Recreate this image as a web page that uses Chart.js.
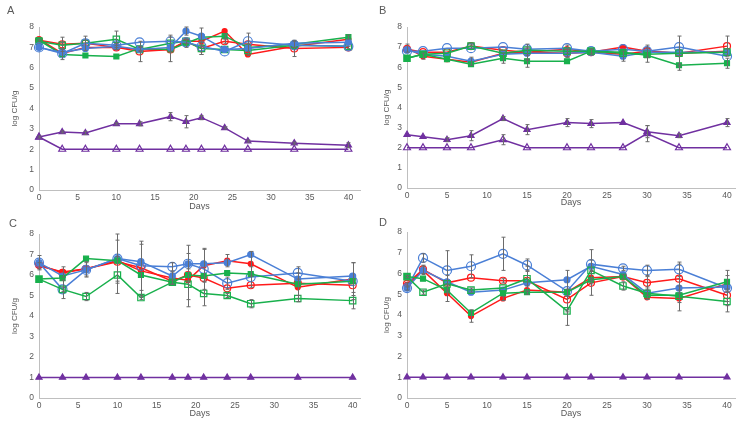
<!DOCTYPE html>
<html><head><meta charset="utf-8">
<script src="https://cdn.jsdelivr.net/npm/chart.js@4/dist/chart.umd.min.js"></script>
<style>
html,body{margin:0;padding:0;background:#fff;width:744px;height:421px;overflow:hidden;font-family:"Liberation Sans",Arial,sans-serif;}
.pane{position:absolute;width:372px;height:210px;}
.lbl{position:absolute;font-size:11px;color:#595959;}
</style></head>
<body>
<div class="pane" style="left:0;top:0"><canvas id="cA" width="372" height="210"></canvas></div>
<div class="pane" style="left:372px;top:0"><canvas id="cB" width="372" height="210"></canvas></div>
<div class="pane" style="left:0;top:210px"><canvas id="cC" width="372" height="210"></canvas></div>
<div class="pane" style="left:372px;top:210px"><canvas id="cD" width="372" height="210"></canvas></div>
<div class="lbl" style="left:7px;top:4px">A</div>
<div class="lbl" style="left:379px;top:4px">B</div>
<div class="lbl" style="left:9px;top:217px">C</div>
<div class="lbl" style="left:379px;top:216px">D</div>
<script>
// ---- categories / ticks ----
const daysAC = [0,3,6,10,13,17,19,21,24,27,33,40];
const daysBD = [0,2,5,8,12,15,20,23,27,30,34,40];
const xTickLabels = [0,5,10,15,20,25,30,35,40];
const yTickLabels = [0,1,2,3,4,5,6,7,8];

// ---- Panel A ----
const A_redFilled    = [7.4,6.7,7.0,7.0,6.9,6.9,7.3,7.3,7.8,6.65,7.05,7.4];
const A_redOpen      = [7.35,7.15,7.2,7.0,6.8,6.9,7.3,6.95,7.3,7.15,6.95,7.0];
const A_blueFilled   = [7.0,6.75,6.95,7.05,6.9,7.0,7.8,7.55,6.9,6.95,7.2,7.25];
const A_blueOpen     = [7.0,6.7,7.2,7.1,7.25,7.3,7.25,7.05,6.8,7.3,7.1,7.05];
const A_greenFilled  = [7.35,6.65,6.6,6.55,6.95,6.9,7.2,7.5,7.55,7.0,7.15,7.5];
const A_greenOpen    = [7.3,7.1,7.2,7.4,6.9,7.2,7.3,6.95,6.9,6.85,7.1,7.05];
const A_purpleFilled = [2.6,2.85,2.8,3.25,3.25,3.6,3.35,3.55,3.05,2.4,2.3,2.2];
const A_purpleOpen   = [2.6,2.0,2.0,2.0,2.0,2.0,2.0,2.0,2.0,2.0,2.0,2.0];
const A_redOpenErr      = [0.05,0.35,0.35,0.1,0.5,0,0.1,0.3,0.1,0.55,0.4,0.05];
const A_greenOpenErr    = [0,0.15,0,0.4,0.1,0.4,0.1,0.3,0,0,0,0];
const A_greenFilledErr  = [0,0.25,0,0,0.1,0.6,0.2,0.45,0.1,0.2,0.15,0.1];
const A_blueFilledErr   = [0,0,0,0.15,0,0,0.2,0,0,0,0,0];
const A_purpleFilledErr = [0.05,0.05,0.08,0.05,0.1,0.2,0.3,0.1,0.05,0.05,0.05,0.12];

// ---- Panel B ----
const B_redFilled    = [6.95,6.55,6.4,6.25,6.7,6.75,6.9,6.75,7.0,6.8,6.7,6.8];
const B_redOpen      = [6.9,6.75,6.75,7.05,6.85,6.75,6.7,6.75,6.65,6.8,6.7,7.05];
const B_blueFilled   = [6.85,6.65,6.55,6.3,6.65,6.7,6.7,6.75,6.55,6.75,6.75,6.75];
const B_blueOpen     = [6.8,6.8,6.95,6.95,7.0,6.9,6.95,6.8,6.9,6.8,7.0,6.55];
const B_greenFilled  = [6.45,6.65,6.4,6.15,6.45,6.3,6.3,6.8,6.75,6.6,6.1,6.2];
const B_greenOpen    = [6.45,6.65,6.7,7.05,6.7,6.85,6.8,6.8,6.7,6.65,6.7,6.75];
const B_purpleFilled = [2.65,2.55,2.4,2.6,3.45,2.9,3.25,3.2,3.25,2.8,2.6,3.25];
const B_purpleOpen   = [2.0,2.0,2.0,2.0,2.4,2.0,2.0,2.0,2.0,2.7,2.0,2.0];
const B_redFilledErr    = [0.2,0.15,0,0,0,0,0.2,0,0,0,0,0];
const B_blueFilledErr   = [0,0,0,0.2,0,0.3,0.2,0,0.25,0,0,0];
const B_redOpenErr      = [0,0,0,0.1,0,0.4,0.2,0.15,0,0.3,0.85,0.5];
const B_greenFilledErr  = [0,0,0,0,0.25,0.3,0,0.1,0,0.35,0.05,0.25];
const B_purpleFilledErr = [0,0,0.1,0.25,0.1,0.25,0.2,0.2,0,0.3,0.1,0.2];
const B_purpleOpenErr   = [0,0,0,0,0.25,0,0,0,0,0.4,0,0];

// ---- Panel C ----
const C_redFilled    = [6.45,6.15,6.3,6.7,6.2,5.85,5.75,6.45,6.7,6.55,5.4,5.8];
const C_redOpen      = [6.5,6.1,6.3,6.65,6.35,5.7,6.0,5.85,5.35,5.5,5.6,5.5];
const C_blueFilled   = [6.6,5.95,6.25,6.8,6.65,5.95,6.55,6.55,6.6,7.0,5.8,5.95];
const C_blueOpen     = [6.6,5.3,6.25,6.8,6.45,6.4,6.55,6.3,5.6,5.9,6.1,5.7];
const C_greenFilled  = [5.8,5.85,6.8,6.7,6.0,5.65,6.0,5.95,6.1,6.05,5.55,5.7];
const C_greenOpen    = [5.8,5.3,4.95,6.0,4.9,5.65,5.55,5.1,5.0,4.6,4.85,4.75];
const C_purpleFilled = [1,1,1,1,1,1,1,1,1,1,1,1];
const C_redFilledErr  = [0.15,0.25,0.35,1.0,1.3,0.3,1.3,0.8,0.3,0.6,0.7,0.8];
const C_blueOpenErr   = [0.35,0.45,0.35,1.2,1.2,0.2,0.9,1.0,0.3,0.5,0.3,0.9];
const C_greenOpenErr  = [0,0.1,0.2,0.9,0.1,0.1,0.75,0.6,0.1,0.2,0.15,0.4];

// ---- Panel D ----
const D_redFilled    = [5.45,6.15,5.05,3.95,4.8,5.2,5.1,5.8,5.85,4.85,4.8,5.5];
const D_redOpen      = [5.5,6.2,5.55,5.8,5.65,5.65,4.75,5.55,5.85,5.55,5.75,4.95];
const D_blueFilled   = [5.3,6.15,5.6,5.1,5.2,5.55,5.7,6.35,5.95,5.05,5.3,5.35];
const D_blueOpen     = [5.3,6.75,6.15,6.35,6.95,6.4,5.15,6.45,6.25,6.15,6.2,5.3];
const D_greenFilled  = [5.85,5.75,5.2,4.1,5.05,5.1,5.1,5.7,5.85,4.95,4.95,5.6];
const D_greenOpen    = [5.85,5.1,5.5,5.2,5.3,5.75,4.2,6.15,5.4,5.05,4.9,4.65];
const D_purpleFilled = [1,1,1,1,1,1,1,1,1,1,1,1];
const D_blueOpenErr  = [0.1,0.2,0.95,0.55,0.8,0.3,1.0,0.7,0.1,0.25,0.35,0.85];
const D_redFilledErr = [0.1,0.2,0.4,0.3,0.1,0.2,0,0.3,0.1,0.1,0.6,0.4];
const D_greenOpenErr = [0.05,0.1,0.4,0.1,0,0.6,0.7,0.5,0.2,0.3,0.3,0.5];
const D_redOpenErr   = [0,0.2,0,0,0.1,0.5,0.5,0.6,0,0.3,0.7,0.3];

// ---- styles ----
const RED='#FF1A1A', BLUE='#4A7FD6', GREEN='#18B04C', PURPLE='#7030A0';
const STYLES = {
  redFilled:   {color:RED,   pointStyle:'circle',  radius:2.5, filled:true},
  redOpen:     {color:RED,   pointStyle:'circle',  radius:3.5, filled:false},
  blueFilled:  {color:BLUE,  pointStyle:'circle',  radius:3,   filled:true},
  blueOpen:    {color:BLUE,  pointStyle:'circle',  radius:4.5, filled:false},
  greenFilled: {color:GREEN, pointStyle:'rect',    radius:3.5, filled:true},
  greenOpen:   {color:GREEN, pointStyle:'rect',    radius:4.5, filled:false},
  purpleFilled:{color:PURPLE,pointStyle:'triangle',radius:3.5, filled:true},
  purpleOpen:  {color:PURPLE,pointStyle:'triangle',radius:4,   filled:false}
};

function ds(key, days, vals, errs){
  const s = STYLES[key];
  return {
    label:key,
    data: days.map((d,i)=>({x:d,y:vals[i]})),
    errors: errs || null,
    borderColor:s.color,
    backgroundColor:s.color,
    borderWidth:1.5,
    pointStyle:s.pointStyle,
    pointRadius:s.radius,
    pointBorderWidth:1.2,
    pointBorderColor:s.color,
    pointBackgroundColor:s.filled ? s.color : 'rgba(255,255,255,0)',
    tension:0,
    clip:false
  };
}

const errorBars = {
  id:'errorBars',
  afterDatasetsDraw(chart){
    const ctx = chart.ctx, ys = chart.scales.y;
    ctx.save();
    ctx.strokeStyle='#6b6b6b'; ctx.lineWidth=1;
    chart.data.datasets.forEach((d,di)=>{
      if(!d.errors) return;
      const meta = chart.getDatasetMeta(di);
      meta.data.forEach((p,i)=>{
        const e = d.errors[i]; if(!e) return;
        const v = d.data[i].y;
        const y1 = ys.getPixelForValue(v+e), y2 = ys.getPixelForValue(v-e);
        const x = Math.round(p.x)+0.5;
        ctx.beginPath();
        ctx.moveTo(x,y1); ctx.lineTo(x,y2);
        ctx.moveTo(x-2,y1); ctx.lineTo(x+2,y1);
        ctx.moveTo(x-2,y2); ctx.lineTo(x+2,y2);
        ctx.stroke();
      });
    });
    ctx.restore();
  }
};

const FONT = '"Liberation Sans", Arial, sans-serif';
function make(id, datasets, g){
  const W=372,H=210;
  new Chart(document.getElementById(id), {
    type:'line',
    data:{datasets},
    plugins:[errorBars],
    options:{
      responsive:false, animation:false,
      layout:{padding:{left:0,top:g.top,right:W-g.right,bottom:0}},
      plugins:{legend:{display:false},tooltip:{enabled:false}},
      scales:{
        x:{type:'linear',min:0,max:g.xmax,
          grid:{display:false,drawTicks:false,tickLength:0},
          border:{display:true,color:'#BFBFBF',width:1},
          afterBuildTicks(s){ s.ticks = xTickLabels.map(v=>({value:v})); },
          afterFit(s){ s.height = H-g.bottom; },
          ticks:{color:'#595959',font:{family:FONT,size:8.5},padding:3,maxRotation:0,autoSkip:false},
          title:{display:true,text:'Days',color:'#595959',font:{family:FONT,size:9},padding:{top:0,bottom:g.tb}}
        },
        y:{type:'linear',min:0,max:8,
          grid:{display:false,drawTicks:false,tickLength:0},
          border:{display:true,color:'#BFBFBF',width:1},
          afterBuildTicks(s){ s.ticks = yTickLabels.map(v=>({value:v})); },
          afterFit(s){ s.width = g.left; },
          ticks:{color:'#595959',font:{family:FONT,size:8.5},padding:5},
          title:{display:true,text:'log CFU/g',color:'#595959',font:{family:FONT,size:8},padding:{top:10,bottom:0}}
        }
      }
    }
  });
}

make('cA', [
  ds('purpleOpen',daysAC,A_purpleOpen),
  ds('purpleFilled',daysAC,A_purpleFilled,A_purpleFilledErr),
  ds('blueFilled',daysAC,A_blueFilled,A_blueFilledErr),
  ds('blueOpen',daysAC,A_blueOpen),
  ds('greenOpen',daysAC,A_greenOpen,A_greenOpenErr),
  ds('greenFilled',daysAC,A_greenFilled,A_greenFilledErr),
  ds('redOpen',daysAC,A_redOpen,A_redOpenErr),
  ds('redFilled',daysAC,A_redFilled)
], {left:39,right:360,top:27,bottom:190,xmax:41.5,tb:-1.5});

make('cB', [
  ds('purpleOpen',daysBD,B_purpleOpen,B_purpleOpenErr),
  ds('purpleFilled',daysBD,B_purpleFilled,B_purpleFilledErr),
  ds('greenFilled',daysBD,B_greenFilled,B_greenFilledErr),
  ds('greenOpen',daysBD,B_greenOpen),
  ds('blueFilled',daysBD,B_blueFilled,B_blueFilledErr),
  ds('blueOpen',daysBD,B_blueOpen),
  ds('redOpen',daysBD,B_redOpen,B_redOpenErr),
  ds('redFilled',daysBD,B_redFilled,B_redFilledErr)
], {left:35,right:363,top:27,bottom:188,xmax:41,tb:2.5});

make('cC', [
  ds('purpleFilled',daysAC,C_purpleFilled),
  ds('greenOpen',daysAC,C_greenOpen,C_greenOpenErr),
  ds('greenFilled',daysAC,C_greenFilled),
  ds('blueOpen',daysAC,C_blueOpen,C_blueOpenErr),
  ds('blueFilled',daysAC,C_blueFilled),
  ds('redOpen',daysAC,C_redOpen),
  ds('redFilled',daysAC,C_redFilled,C_redFilledErr)
], {left:39,right:360.5,top:24,bottom:188,xmax:41,tb:1.5});

make('cD', [
  ds('purpleFilled',daysBD,D_purpleFilled),
  ds('greenOpen',daysBD,D_greenOpen,D_greenOpenErr),
  ds('greenFilled',daysBD,D_greenFilled),
  ds('blueOpen',daysBD,D_blueOpen,D_blueOpenErr),
  ds('blueFilled',daysBD,D_blueFilled),
  ds('redOpen',daysBD,D_redOpen,D_redOpenErr),
  ds('redFilled',daysBD,D_redFilled,D_redFilledErr)
], {left:35,right:363,top:22,bottom:188,xmax:41,tb:1.5});
</script>
</body></html>
